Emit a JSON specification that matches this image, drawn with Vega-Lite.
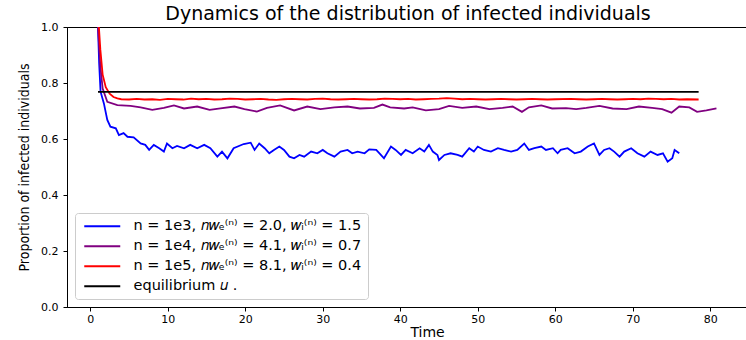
{
  "$schema": "https://vega.github.io/schema/vega-lite/v6.json",
  "width": 682,
  "height": 280,
  "autosize": {"type": "none"},
  "padding": {"left": 67, "top": 27, "right": 0, "bottom": 33},
  "background": "white",
  "title": {"text": "Dynamics of the distribution of infected individuals", "font": "DejaVu Sans", "fontSize": 19, "fontWeight": "normal", "color": "black", "offset": -3, "anchor": "middle"},
  "config": {
    "view": {"stroke": "black", "strokeWidth": 1},
    "axis": {"grid": false, "domainColor": "black", "tickColor": "black", "tickSize": 4, "labelFont": "DejaVu Sans", "labelFontSize": 11, "labelColor": "black", "titleColor": "black", "titleFontWeight": "normal"},
    "legend": {"labelFont": "DejaVu Sans", "labelFontSize": 14.5, "labelColor": "black", "labelLimit": 500}
  },
  "data": {"values": [
    {"s":"b","t":1.0,"v":1.0},{"s":"b","t":1.15,"v":0.87},{"s":"b","t":1.33,"v":0.769},{"s":"b","t":1.76,"v":0.727},{"s":"b","t":2.2,"v":0.668},{"s":"b","t":2.6,"v":0.644},{"s":"b","t":3.3,"v":0.638},{"s":"b","t":3.7,"v":0.614},{"s":"b","t":4.3,"v":0.621},{"s":"b","t":4.8,"v":0.608},{"s":"b","t":5.6,"v":0.606},{"s":"b","t":6.5,"v":0.584},{"s":"b","t":7.1,"v":0.579},{"s":"b","t":7.6,"v":0.561},{"s":"b","t":8.2,"v":0.579},{"s":"b","t":8.9,"v":0.567},{"s":"b","t":9.5,"v":0.555},{"s":"b","t":9.9,"v":0.584},{"s":"b","t":10.6,"v":0.567},{"s":"b","t":11.2,"v":0.575},{"s":"b","t":12.1,"v":0.567},{"s":"b","t":12.9,"v":0.579},{"s":"b","t":13.8,"v":0.567},{"s":"b","t":14.7,"v":0.579},{"s":"b","t":15.5,"v":0.567},{"s":"b","t":16.4,"v":0.537},{"s":"b","t":17.0,"v":0.555},{"s":"b","t":17.7,"v":0.531},{"s":"b","t":18.5,"v":0.567},{"s":"b","t":19.8,"v":0.582},{"s":"b","t":20.7,"v":0.587},{"s":"b","t":21.2,"v":0.561},{"s":"b","t":21.8,"v":0.584},{"s":"b","t":22.5,"v":0.567},{"s":"b","t":23.1,"v":0.549},{"s":"b","t":23.7,"v":0.561},{"s":"b","t":24.4,"v":0.573},{"s":"b","t":25.0,"v":0.561},{"s":"b","t":25.7,"v":0.537},{"s":"b","t":26.3,"v":0.531},{"s":"b","t":27.0,"v":0.543},{"s":"b","t":27.6,"v":0.537},{"s":"b","t":28.5,"v":0.555},{"s":"b","t":29.3,"v":0.549},{"s":"b","t":30.0,"v":0.561},{"s":"b","t":30.6,"v":0.549},{"s":"b","t":31.5,"v":0.537},{"s":"b","t":32.3,"v":0.555},{"s":"b","t":33.2,"v":0.561},{"s":"b","t":33.8,"v":0.549},{"s":"b","t":34.5,"v":0.555},{"s":"b","t":35.4,"v":0.549},{"s":"b","t":36.0,"v":0.563},{"s":"b","t":36.9,"v":0.561},{"s":"b","t":37.5,"v":0.543},{"s":"b","t":37.9,"v":0.531},{"s":"b","t":38.8,"v":0.573},{"s":"b","t":39.4,"v":0.561},{"s":"b","t":40.1,"v":0.543},{"s":"b","t":40.7,"v":0.561},{"s":"b","t":41.6,"v":0.549},{"s":"b","t":42.5,"v":0.567},{"s":"b","t":43.1,"v":0.555},{"s":"b","t":43.7,"v":0.579},{"s":"b","t":44.2,"v":0.555},{"s":"b","t":44.8,"v":0.543},{"s":"b","t":45.0,"v":0.525},{"s":"b","t":45.7,"v":0.543},{"s":"b","t":46.5,"v":0.549},{"s":"b","t":47.4,"v":0.543},{"s":"b","t":48.0,"v":0.537},{"s":"b","t":48.9,"v":0.567},{"s":"b","t":49.5,"v":0.555},{"s":"b","t":50.0,"v":0.573},{"s":"b","t":50.8,"v":0.561},{"s":"b","t":51.7,"v":0.555},{"s":"b","t":52.6,"v":0.567},{"s":"b","t":53.4,"v":0.561},{"s":"b","t":54.3,"v":0.555},{"s":"b","t":55.1,"v":0.561},{"s":"b","t":56.0,"v":0.584},{"s":"b","t":56.6,"v":0.561},{"s":"b","t":57.3,"v":0.567},{"s":"b","t":58.2,"v":0.573},{"s":"b","t":58.8,"v":0.561},{"s":"b","t":59.7,"v":0.567},{"s":"b","t":60.3,"v":0.549},{"s":"b","t":60.7,"v":0.561},{"s":"b","t":61.6,"v":0.567},{"s":"b","t":62.5,"v":0.549},{"s":"b","t":63.3,"v":0.555},{"s":"b","t":64.2,"v":0.573},{"s":"b","t":65.0,"v":0.584},{"s":"b","t":65.7,"v":0.543},{"s":"b","t":66.3,"v":0.561},{"s":"b","t":67.0,"v":0.567},{"s":"b","t":67.6,"v":0.555},{"s":"b","t":68.3,"v":0.537},{"s":"b","t":68.9,"v":0.555},{"s":"b","t":69.8,"v":0.567},{"s":"b","t":70.6,"v":0.549},{"s":"b","t":71.5,"v":0.537},{"s":"b","t":72.3,"v":0.555},{"s":"b","t":73.2,"v":0.543},{"s":"b","t":73.9,"v":0.549},{"s":"b","t":74.5,"v":0.519},{"s":"b","t":75.1,"v":0.531},{"s":"b","t":75.4,"v":0.561},{"s":"b","t":76.0,"v":0.549},
    {"s":"p","t":1.0,"v":1.0},{"s":"p","t":1.3,"v":0.86},{"s":"p","t":1.6,"v":0.78},{"s":"p","t":2.2,"v":0.733},{"s":"p","t":3.5,"v":0.721},{"s":"p","t":5.2,"v":0.718},{"s":"p","t":6.5,"v":0.713},{"s":"p","t":8.0,"v":0.704},{"s":"p","t":9.5,"v":0.711},{"s":"p","t":10.8,"v":0.72},{"s":"p","t":12.1,"v":0.709},{"s":"p","t":13.8,"v":0.716},{"s":"p","t":15.4,"v":0.704},{"s":"p","t":16.8,"v":0.709},{"s":"p","t":18.6,"v":0.716},{"s":"p","t":19.9,"v":0.707},{"s":"p","t":21.5,"v":0.698},{"s":"p","t":22.8,"v":0.711},{"s":"p","t":24.5,"v":0.72},{"s":"p","t":26.3,"v":0.702},{"s":"p","t":28.0,"v":0.716},{"s":"p","t":29.7,"v":0.707},{"s":"p","t":31.5,"v":0.713},{"s":"p","t":33.2,"v":0.716},{"s":"p","t":34.8,"v":0.709},{"s":"p","t":36.6,"v":0.711},{"s":"p","t":37.7,"v":0.723},{"s":"p","t":38.7,"v":0.713},{"s":"p","t":40.5,"v":0.709},{"s":"p","t":41.6,"v":0.713},{"s":"p","t":43.3,"v":0.702},{"s":"p","t":45.0,"v":0.707},{"s":"p","t":46.3,"v":0.718},{"s":"p","t":48.0,"v":0.711},{"s":"p","t":49.8,"v":0.716},{"s":"p","t":51.5,"v":0.707},{"s":"p","t":53.2,"v":0.711},{"s":"p","t":54.5,"v":0.716},{"s":"p","t":55.7,"v":0.697},{"s":"p","t":56.6,"v":0.713},{"s":"p","t":58.2,"v":0.72},{"s":"p","t":59.6,"v":0.709},{"s":"p","t":61.4,"v":0.71},{"s":"p","t":62.7,"v":0.707},{"s":"p","t":64.0,"v":0.711},{"s":"p","t":65.7,"v":0.718},{"s":"p","t":67.4,"v":0.709},{"s":"p","t":69.2,"v":0.707},{"s":"p","t":70.8,"v":0.716},{"s":"p","t":72.5,"v":0.711},{"s":"p","t":73.8,"v":0.707},{"s":"p","t":75.0,"v":0.694},{"s":"p","t":76.0,"v":0.716},{"s":"p","t":77.3,"v":0.713},{"s":"p","t":78.3,"v":0.697},{"s":"p","t":79.5,"v":0.702},{"s":"p","t":80.8,"v":0.709},
    {"s":"r","t":1.0,"v":1.05},{"s":"r","t":1.3,"v":0.92},{"s":"r","t":1.6,"v":0.83},{"s":"r","t":2.0,"v":0.785},{"s":"r","t":2.5,"v":0.762},{"s":"r","t":3.0,"v":0.75},{"s":"r","t":3.5,"v":0.745},{"s":"r","t":4.0,"v":0.742},{"s":"r","t":5.0,"v":0.741},{"s":"r","t":6.0,"v":0.743},{"s":"r","t":7.0,"v":0.741},{"s":"r","t":8.0,"v":0.742},{"s":"r","t":9.0,"v":0.74},{"s":"r","t":10.0,"v":0.743},{"s":"r","t":11.0,"v":0.742},{"s":"r","t":12.0,"v":0.741},{"s":"r","t":13.0,"v":0.744},{"s":"r","t":14.0,"v":0.742},{"s":"r","t":15.0,"v":0.743},{"s":"r","t":16.0,"v":0.741},{"s":"r","t":17.0,"v":0.742},{"s":"r","t":18.0,"v":0.744},{"s":"r","t":19.0,"v":0.743},{"s":"r","t":20.0,"v":0.741},{"s":"r","t":21.0,"v":0.742},{"s":"r","t":22.0,"v":0.743},{"s":"r","t":23.0,"v":0.741},{"s":"r","t":24.0,"v":0.74},{"s":"r","t":25.0,"v":0.742},{"s":"r","t":26.0,"v":0.743},{"s":"r","t":27.0,"v":0.742},{"s":"r","t":28.0,"v":0.741},{"s":"r","t":29.0,"v":0.743},{"s":"r","t":30.0,"v":0.744},{"s":"r","t":31.0,"v":0.742},{"s":"r","t":32.0,"v":0.741},{"s":"r","t":33.0,"v":0.742},{"s":"r","t":34.0,"v":0.743},{"s":"r","t":35.0,"v":0.742},{"s":"r","t":36.0,"v":0.741},{"s":"r","t":37.0,"v":0.742},{"s":"r","t":38.0,"v":0.744},{"s":"r","t":39.0,"v":0.743},{"s":"r","t":40.0,"v":0.742},{"s":"r","t":41.0,"v":0.743},{"s":"r","t":42.0,"v":0.741},{"s":"r","t":43.0,"v":0.742},{"s":"r","t":44.0,"v":0.743},{"s":"r","t":45.0,"v":0.744},{"s":"r","t":46.0,"v":0.746},{"s":"r","t":47.0,"v":0.744},{"s":"r","t":48.0,"v":0.742},{"s":"r","t":49.0,"v":0.743},{"s":"r","t":50.0,"v":0.742},{"s":"r","t":51.0,"v":0.741},{"s":"r","t":52.0,"v":0.742},{"s":"r","t":53.0,"v":0.743},{"s":"r","t":54.0,"v":0.742},{"s":"r","t":55.0,"v":0.741},{"s":"r","t":56.0,"v":0.742},{"s":"r","t":57.0,"v":0.743},{"s":"r","t":58.0,"v":0.742},{"s":"r","t":59.0,"v":0.741},{"s":"r","t":60.0,"v":0.742},{"s":"r","t":62.0,"v":0.743},{"s":"r","t":63.0,"v":0.742},{"s":"r","t":64.0,"v":0.741},{"s":"r","t":65.0,"v":0.742},{"s":"r","t":66.0,"v":0.743},{"s":"r","t":67.0,"v":0.742},{"s":"r","t":68.0,"v":0.741},{"s":"r","t":69.0,"v":0.742},{"s":"r","t":70.0,"v":0.743},{"s":"r","t":71.0,"v":0.742},{"s":"r","t":72.0,"v":0.744},{"s":"r","t":73.0,"v":0.743},{"s":"r","t":74.0,"v":0.742},{"s":"r","t":75.0,"v":0.743},{"s":"r","t":76.0,"v":0.741},{"s":"r","t":77.0,"v":0.742},{"s":"r","t":78.5,"v":0.741},
    {"s":"k","t":1.0,"v":0.768},{"s":"k","t":78.5,"v":0.768}
  ]},
  "mark": {"type": "line", "strokeWidth": 1.8, "clip": true},
  "encoding": {
    "x": {"field": "t", "type": "quantitative", "scale": {"domain": [-3, 85], "nice": false, "zero": false}, "axis": {"values": [0,10,20,30,40,50,60,70,80], "title": "Time", "titleFont": "DejaVu Sans", "titleFontSize": 14, "titleBaseline": "bottom", "titleY": 32, "titleX": 360, "titleAlign": "center", "labelPadding": 2}},
    "y": {"field": "v", "type": "quantitative", "scale": {"domain": [0, 1], "nice": false}, "axis": {"values": [0,0.2,0.4,0.6,0.8,1.0], "format": ".1f", "title": "Proportion of infected individuals", "titleFont": "'DejaVu Sans Condensed', Roboto, sans-serif", "titleFontSize": 14, "titlePadding": 9, "labelPadding": 5}},
    "color": {"field": "s", "type": "nominal",
      "scale": {"domain": ["b","p","r","k"], "range": ["#0000ff","#800080","#ff0000","#000000"]},
      "legend": {"title": null, "orient": "bottom-left", "offset": 8, "symbolType": "M-3.6,0H3.6", "symbolSize": 100, "symbolStrokeWidth": 1.8, "symbolOffset": 14, "padding": 6, "rowPadding": 5, "labelOffset": 24, "strokeColor": "#cccccc", "fillColor": "rgba(255,255,255,0.8)", "cornerRadius": 3,
        "labelExpr": "datum.value == 'b' ? 'n = 1e3, 𝑛𝑤ₑ⁽ⁿ⁾ = 2.0, 𝑤ᵢ⁽ⁿ⁾ = 1.5' : datum.value == 'p' ? 'n = 1e4, 𝑛𝑤ₑ⁽ⁿ⁾ = 4.1, 𝑤ᵢ⁽ⁿ⁾ = 0.7' : datum.value == 'r' ? 'n = 1e5, 𝑛𝑤ₑ⁽ⁿ⁾ = 8.1, 𝑤ᵢ⁽ⁿ⁾ = 0.4' : 'equilibrium 𝑢 .'"}
    }
  }
}
